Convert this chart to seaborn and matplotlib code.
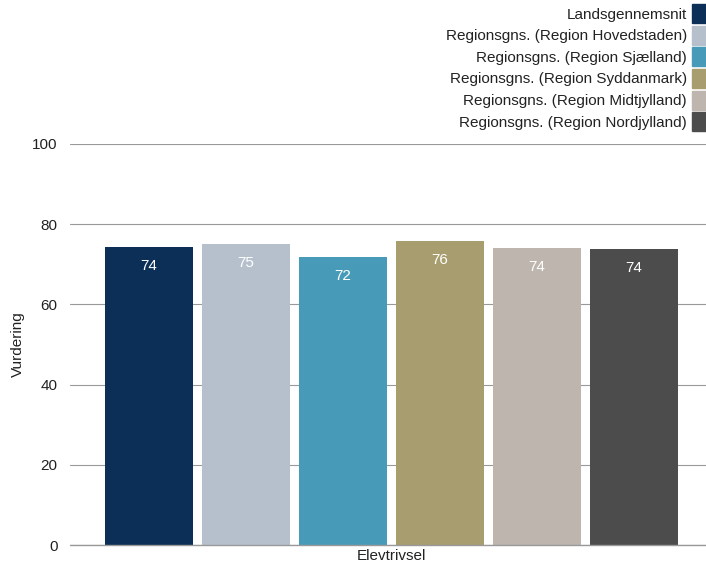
import matplotlib
matplotlib.use("Agg")
import matplotlib.pyplot as plt
import matplotlib.patches as mpatches
import seaborn as sns
import pandas as pd

category = ["Elevtrivsel"]
series = ["Landsgennemsnit",
          "Regionsgns. (Region Hovedstaden)",
          "Regionsgns. (Region Sjælland)",
          "Regionsgns. (Region Syddanmark)",
          "Regionsgns. (Region Midtjylland)",
          "Regionsgns. (Region Nordjylland)"]
values = [74.3, 75.1, 71.8, 75.8, 74.1, 73.8]
labels = ["74", "75", "72", "76", "74", "74"]
colors = ["#0b2f56", "#b6c0cc", "#479bb8", "#a89d6e", "#bdb5ae", "#4c4c4c"]

df = pd.DataFrame({"kategori": category * len(series), "serie": series, "vaerdi": values})

sns.set_style("white")
plt.rcParams["font.family"] = ["Liberation Sans", "DejaVu Sans"]

fig = plt.figure(figsize=(7.06, 5.69), dpi=100)
ax = fig.add_axes([0.099, 0.042, 0.901, 0.705])

sns.barplot(data=df, x="kategori", y="vaerdi", hue="serie", palette=colors,
            width=0.915, gap=0.093, saturation=1, linewidth=0, legend=False, ax=ax)

ax.set_ylim(0, 100)
ax.set_xlim(-0.505, 0.495)
ax.set_yticks([0, 20, 40, 60, 80, 100])
ax.yaxis.grid(True, color="#999999", linewidth=0.8)
ax.set_axisbelow(True)
ax.axhline(0, color="#999999", linewidth=1.0, zorder=5, clip_on=False)
for s in ax.spines.values():
    s.set_visible(False)
ax.tick_params(axis="both", length=0, labelsize=11, colors="#222222")
ax.tick_params(axis="y", pad=9)
ax.tick_params(axis="x", pad=3)
ax.set_xlabel("")
ax.set_ylabel("Vurdering", fontsize=11, color="#222222")
ax.yaxis.set_label_coords(-0.071, 0.5)

for p, lab in zip(ax.patches, labels):
    ax.text(p.get_x() + p.get_width() / 2, p.get_height() - 4.8, lab,
            ha="center", va="center", color="white", fontsize=11)

handles = [mpatches.Patch(color=c, label=s) for c, s in zip(colors, series)]
fig.legend(handles=handles, loc="upper right", bbox_to_anchor=(1.0057, 1.0),
           frameon=False, markerfirst=False, fontsize=11, handlelength=0.92,
           handleheight=1.54, handletextpad=0.33, labelspacing=0.17,
           borderaxespad=0.0, borderpad=0.26)
for t in fig.legends[0].get_texts():
    t.set_color("#222222")

fig.savefig("out.png", dpi=100)
